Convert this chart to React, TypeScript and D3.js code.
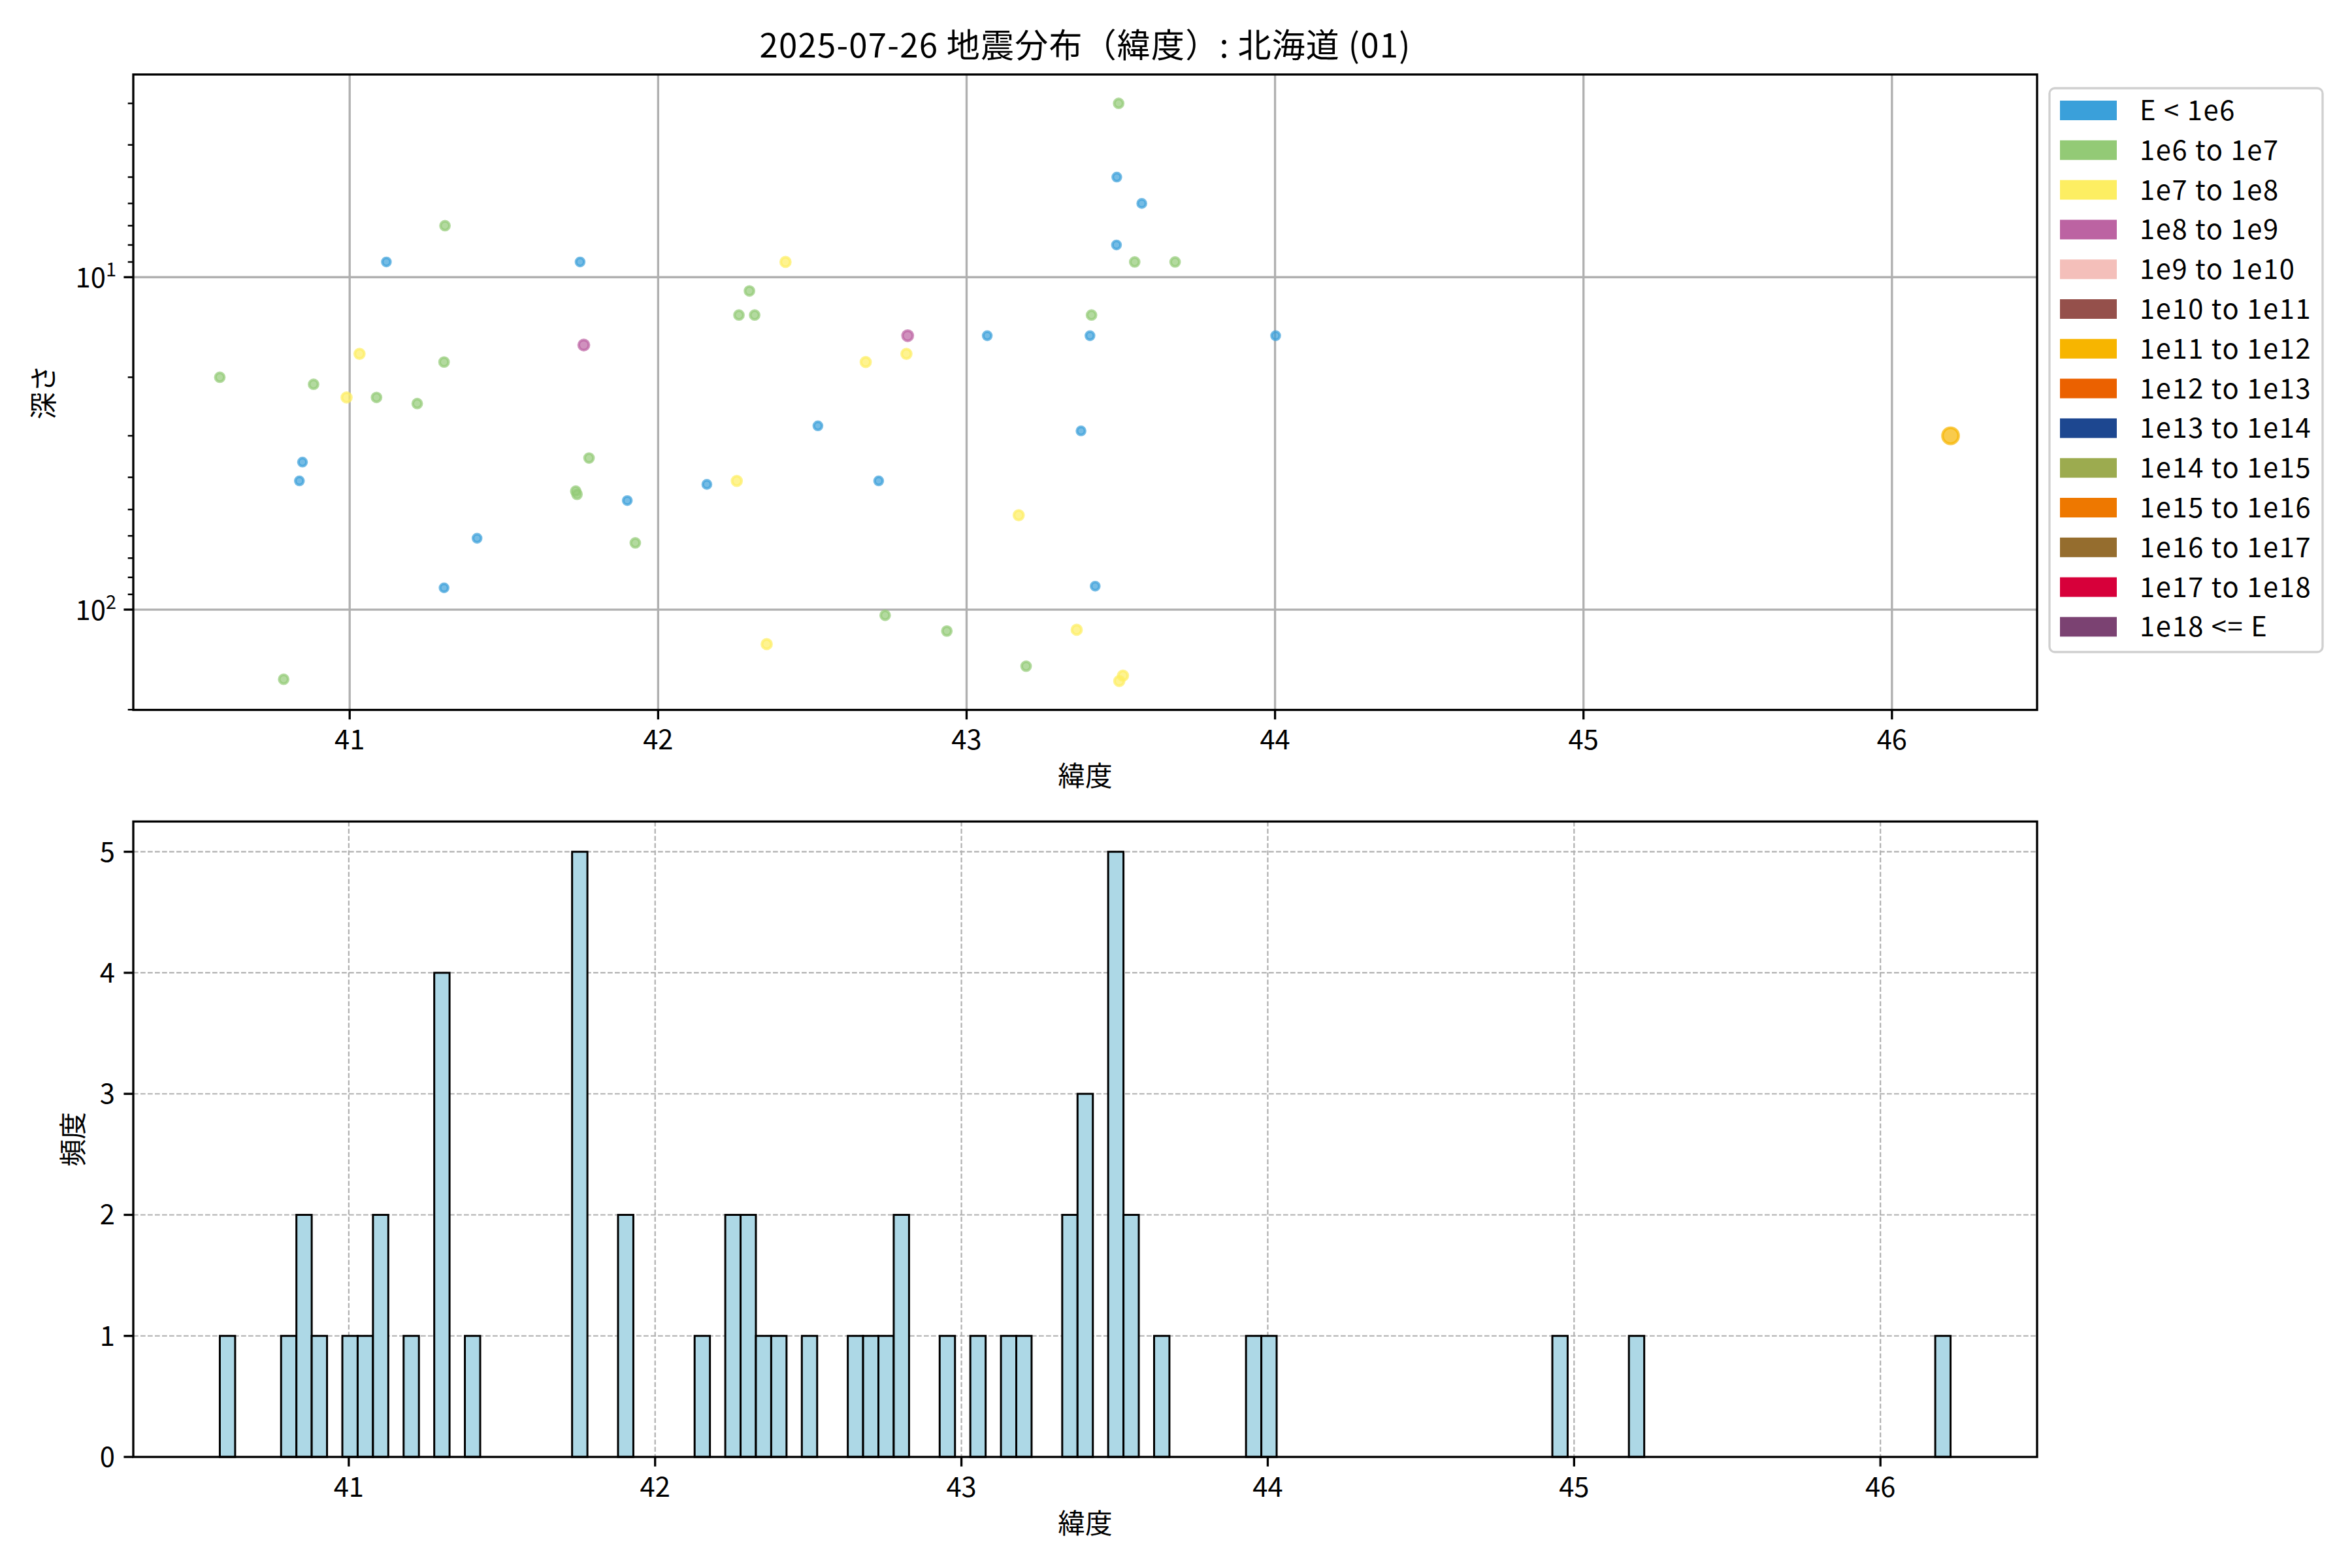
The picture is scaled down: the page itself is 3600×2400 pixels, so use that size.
import React from 'react';
import * as d3 from 'd3';

// ---- data ----
const latitudes = [
  43.493, 43.487, 43.568, 41.309, 43.486, 41.119, 41.747, 42.413, 43.545, 43.676,
  42.296, 42.262, 42.313, 43.405, 42.809, 43.067, 43.4, 41.759, 41.032, 42.805,
  41.306, 42.673, 40.579, 40.883, 40.99, 41.087, 41.219, 42.518, 43.371, 40.847,
  41.776, 40.837, 42.255, 42.715, 42.158, 41.733, 41.737, 41.9, 43.169, 41.413,
  41.926, 41.306, 43.417, 42.736, 42.936, 43.357, 42.352, 43.193, 43.507, 43.495,
  40.786, 44.002, 46.19,
  41.3, 43.95, 44.95, 45.2,
];
const depths: (number | null)[] = [
  3.0, 5.0, 6.0, 7.0, 8.0, 9, 9, 9, 9, 9,
  11, 13, 13, 13, 15, 15, 15, 16, 17, 17,
  18, 18, 20, 21, 23, 23, 24, 28, 29, 36,
  35, 41, 41, 41, 42, 44, 45, 47, 52, 61,
  63, 86, 85, 104, 116, 115, 127, 148, 158, 164,
  162, 15, 30,
  null, null, null, null,
];
const energyClasses = [
  1, 0, 0, 1, 0, 0, 0, 2, 1, 1,
  1, 1, 1, 1, 3, 0, 0, 3, 2, 2,
  1, 2, 1, 1, 2, 1, 1, 0, 0, 0,
  1, 0, 2, 0, 0, 1, 1, 0, 2, 0,
  1, 0, 0, 1, 1, 2, 2, 1, 2, 2,
  1, 0, 6,
  0, 0, 0, 0,
];

const classLabels = [
  'E < 1e6', '1e6 to 1e7', '1e7 to 1e8', '1e8 to 1e9', '1e9 to 1e10',
  '1e10 to 1e11', '1e11 to 1e12', '1e12 to 1e13', '1e13 to 1e14', '1e14 to 1e15',
  '1e15 to 1e16', '1e16 to 1e17', '1e17 to 1e18', '1e18 <= E',
];
const classColors = [
  '#3aa0da', '#93ca76', '#fdee62', '#bc63a2', '#f4bfba',
  '#95504b', '#f7b500', '#eb6100', '#1d4790', '#9cab4f',
  '#ee7800', '#956d2e', '#d7003a', '#7b4272',
];
const classRadius = [6.2, 6.8, 7.3, 7.8, 8.5, 9.5, 12.3, 13, 14, 15, 16, 17, 18, 19];

const titleText = '2025-07-26 地震分布（緯度）: 北海道 (01)';
const xLabel = '緯度';
const yLabelTop = '深さ';
const yLabelHist = '頻度';
const binWidth = 0.05;

// ---- layout ----
const W = 3600;
const H = 2400;
const plotLeft = 204;
const plotRight = 3118;
const top1 = 114;
const bottom1 = 1086.6;
const top2 = 1257.4;
const bottom2 = 2230;
const FONT = "'Noto Sans CJK JP', 'Noto Sans', sans-serif";
const FS = 41.7;
const SPINE = 3.33;

export default function App() {
  const events = latitudes.map((lat, i) => ({ lat, depth: depths[i], cls: energyClasses[i] }));
  const visible = events.filter((d) => d.depth != null && (d.depth as number) > 0);

  const latMin = d3.min(latitudes) as number;
  const latMax = d3.max(latitudes) as number;
  const span = latMax - latMin;
  const x1 = d3.scaleLinear().domain([latMin - 0.05 * span, latMax + 0.05 * span]).range([plotLeft, plotRight]);

  const dMin = d3.min(visible, (d) => d.depth as number) as number;
  const dMax = d3.max(visible, (d) => d.depth as number) as number;
  const lmin = Math.log10(dMin);
  const lmax = Math.log10(dMax);
  const lspan = lmax - lmin;
  const yDom: [number, number] = [10 ** (lmin - 0.05 * lspan), 10 ** (lmax + 0.05 * lspan)];
  const y1 = d3.scaleLog().domain(yDom).range([top1, bottom1]);

  // histogram: bins of 0.05 from min
  const nBins = Math.ceil((latMax - latMin) / binWidth + 1e-9);
  const counts = new Array(nBins).fill(0);
  latitudes.forEach((lat) => {
    const k = Math.min(nBins - 1, Math.floor((lat - latMin) / binWidth + 1e-9));
    counts[k] += 1;
  });
  const bins = counts.map((c, k) => ({ x0: latMin + k * binWidth, x1: latMin + (k + 1) * binWidth, count: c }));
  const hEnd = latMin + nBins * binWidth;
  const hSpan = hEnd - latMin;
  const x2 = d3.scaleLinear().domain([latMin - 0.05 * hSpan, hEnd + 0.05 * hSpan]).range([plotLeft, plotRight]);
  const maxCount = d3.max(counts) as number;
  const y2 = d3.scaleLinear().domain([0, maxCount * 1.05]).range([bottom2, top2]);

  const xTicks1 = x1.ticks(6).filter((t) => Number.isInteger(t));
  const xTicks2 = x2.ticks(6).filter((t) => Number.isInteger(t));
  const yTicks2 = y2.ticks(6).filter((t) => Number.isInteger(t));

  const majorLog: number[] = [];
  const minorLog: number[] = [];
  for (let e = -1; e <= 4; e++) {
    const base = 10 ** e;
    if (base >= yDom[0] - 1e-9 && base <= yDom[1] + 1e-9) majorLog.push(e);
    for (let m = 2; m <= 9; m++) {
      const v = m * base;
      if (v >= yDom[0] - 1e-9 && v <= yDom[1] * 1.0005) minorLog.push(v);
    }
  }

  const cx = (plotLeft + plotRight) / 2;
  const legendX = 3137;
  const legendY = 135;
  const rowH = 60.8;
  const firstRow = 169;

  return (
    <svg
      width={W}
      height={H}
      viewBox={`0 0 ${W} ${H}`}
      style={{ position: 'absolute', left: 0, top: 0, background: '#fff' }}
      fontFamily={FONT}
    >
      <rect x={0} y={0} width={W} height={H} fill="#fff" />
      {/* title */}
      <text x={cx} y={88} textAnchor="middle" fontSize={51} letterSpacing={1.2} fill="#000">{titleText}</text>

      {/* ===== top scatter ===== */}
      <g>
        {xTicks1.map((t) => (
          <line key={'gx' + t} x1={x1(t)} x2={x1(t)} y1={top1} y2={bottom1} stroke="#b0b0b0" strokeWidth={3.33} />
        ))}
        {majorLog.map((e) => (
          <line key={'gy' + e} x1={plotLeft} x2={plotRight} y1={y1(10 ** e)} y2={y1(10 ** e)} stroke="#b0b0b0" strokeWidth={3.33} />
        ))}
        {visible.map((d, i) => (
          <circle
            key={'p' + i}
            cx={x1(d.lat)}
            cy={y1(d.depth as number)}
            r={classRadius[d.cls]}
            fill={classColors[d.cls]}
            fillOpacity={0.7}
            stroke={classColors[d.cls]}
            strokeOpacity={0.7}
            strokeWidth={4.17}
          />
        ))}
        <rect x={plotLeft} y={top1} width={plotRight - plotLeft} height={bottom1 - top1} fill="none" stroke="#000" strokeWidth={SPINE} />
        {xTicks1.map((t) => (
          <g key={'xt' + t}>
            <line x1={x1(t)} x2={x1(t)} y1={bottom1} y2={bottom1 + 14.6} stroke="#000" strokeWidth={3.33} />
            <text x={x1(t)} y={1147} textAnchor="middle" fontSize={FS}>{t}</text>
          </g>
        ))}
        {majorLog.map((e) => (
          <g key={'yt' + e}>
            <line x1={plotLeft - 14.6} x2={plotLeft} y1={y1(10 ** e)} y2={y1(10 ** e)} stroke="#000" strokeWidth={3.33} />
            <text x={178} y={y1(10 ** e) + 16} textAnchor="end" fontSize={FS}>
              10<tspan dy={-17} fontSize={29}>{e}</tspan>
            </text>
          </g>
        ))}
        {minorLog.map((v) => (
          <line key={'ym' + v} x1={plotLeft - 8.3} x2={plotLeft} y1={y1(v)} y2={y1(v)} stroke="#000" strokeWidth={2.5} />
        ))}
        <text x={cx} y={1203} textAnchor="middle" fontSize={FS}>{xLabel}</text>
        <text transform={`translate(82, ${(top1 + bottom1) / 2}) rotate(-90)`} textAnchor="middle" fontSize={FS}>{yLabelTop}</text>
      </g>

      {/* legend */}
      <g>
        <rect x={legendX} y={legendY} width={418} height={863} rx={8} ry={8} fill="#fff" fillOpacity={0.8} stroke="#d0d0d0" strokeWidth={3.33} />
        {classLabels.map((lab, i) => {
          const yc = firstRow + i * rowH;
          return (
            <g key={'lg' + i}>
              <rect x={3153} y={yc - 15} width={87} height={30} fill={classColors[i]} />
              <text x={3275} y={yc + 15} fontSize={FS} letterSpacing={1.6}>{lab}</text>
            </g>
          );
        })}
      </g>

      {/* ===== histogram ===== */}
      <g>
        {xTicks2.map((t) => (
          <line key={'hgx' + t} x1={x2(t)} x2={x2(t)} y1={top2} y2={bottom2} stroke="#b0b0b0" strokeWidth={2.2} strokeDasharray="7.7,3.3" />
        ))}
        {yTicks2.map((t) => (
          <line key={'hgy' + t} x1={plotLeft} x2={plotRight} y1={y2(t)} y2={y2(t)} stroke="#b0b0b0" strokeWidth={2.2} strokeDasharray="7.7,3.3" />
        ))}
        {bins.filter((b) => b.count > 0).map((b, i) => (
          <rect
            key={'bar' + i}
            x={x2(b.x0)}
            y={y2(b.count)}
            width={x2(b.x1) - x2(b.x0)}
            height={y2(0) - y2(b.count)}
            fill="#add8e6"
            stroke="#000"
            strokeWidth={3}
          />
        ))}
        <rect x={plotLeft} y={top2} width={plotRight - plotLeft} height={bottom2 - top2} fill="none" stroke="#000" strokeWidth={SPINE} />
        {xTicks2.map((t) => (
          <g key={'hxt' + t}>
            <line x1={x2(t)} x2={x2(t)} y1={bottom2} y2={bottom2 + 14.6} stroke="#000" strokeWidth={3.33} />
            <text x={x2(t)} y={2291} textAnchor="middle" fontSize={FS}>{t}</text>
          </g>
        ))}
        {yTicks2.map((t) => (
          <g key={'hyt' + t}>
            <line x1={plotLeft - 14.6} x2={plotLeft} y1={y2(t)} y2={y2(t)} stroke="#000" strokeWidth={3.33} />
            <text x={176} y={y2(t) + 15} textAnchor="end" fontSize={FS}>{t}</text>
          </g>
        ))}
        <text x={cx} y={2347} textAnchor="middle" fontSize={FS}>{xLabel}</text>
        <text transform={`translate(127, ${(top2 + bottom2) / 2}) rotate(-90)`} textAnchor="middle" fontSize={FS}>{yLabelHist}</text>
      </g>
    </svg>
  );
}
